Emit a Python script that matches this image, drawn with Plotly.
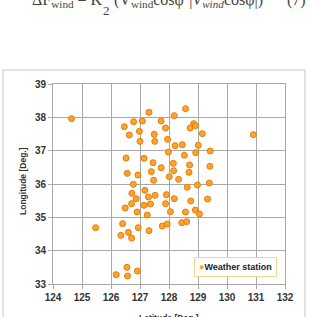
import plotly.graph_objects as go

# Weather station positions (x = "Latitude" axis, y = "Longitude" axis as labelled in the reference)
lon = [124.64, 127.31, 126.46, 126.78, 127.08, 126.98, 126.63, 127.49, 127.00, 127.51,
       126.52, 127.14, 127.45, 126.56, 126.93, 127.39, 127.47, 126.77, 128.57, 128.18,
       127.73, 127.88, 128.85, 128.91, 128.73, 129.15, 130.91, 127.95, 128.21, 128.46,
       129.01, 127.98, 129.42, 128.92, 128.53, 128.15, 128.71, 129.41, 127.73, 128.16,
       128.69, 128.01, 128.33, 128.63, 128.98, 129.39, 127.52, 127.91, 128.18, 127.88,
       128.75, 129.33, 128.05, 128.57, 128.91, 129.05, 127.77, 127.94, 128.44, 128.61,
       127.31, 127.17, 126.72, 127.29, 126.87, 126.71, 127.14, 127.36, 126.49, 126.90,
       127.25, 125.47, 126.40, 126.60, 126.34, 126.71, 126.94, 126.18, 126.55, 126.57,
       126.91]
lat = [37.96, 38.15, 37.72, 37.87, 37.89, 37.58, 37.47, 37.49, 37.28, 37.28,
       36.78, 36.77, 36.64, 36.32, 36.27, 36.37, 36.11, 35.99, 38.26, 38.05,
       37.89, 37.68, 37.81, 37.75, 37.68, 37.51, 37.48, 37.34, 37.15, 37.18,
       37.16, 36.96, 36.99, 36.94, 36.86, 36.62, 36.57, 36.53, 36.49, 36.40,
       36.35, 36.22, 36.14, 35.90, 35.97, 36.03, 35.66, 35.68, 35.56, 35.41,
       35.49, 35.55, 35.17, 35.16, 35.22, 35.10, 34.74, 34.80, 34.84, 34.87,
       34.60, 35.81, 35.72, 35.61, 35.56, 35.41, 35.36, 35.40, 35.28, 35.16,
       35.07, 34.69, 34.81, 34.55, 34.46, 34.38, 34.69, 33.28, 33.50, 33.24,
       33.39]

x_ticks = [124, 125, 126, 127, 128, 129, 130, 131, 132]
y_ticks = [33, 34, 35, 36, 37, 38, 39]
series_name = "Weather station"
x_title = "Latitude [Deg.]"
y_title = "Longitude [Deg.]"

FONT = "Liberation Sans, Arial, sans-serif"
SERIF = "Liberation Serif, Times New Roman, serif"
GRID = "#a8a8a8"
W, H = 310, 317
L, R, T, B = 53, 25, 84, 33
PW, PH = W - L - R, H - T - B


def px_x(px):
    return (px - L) / PW


def px_y(py):
    return (T + PH - py) / PH


fig = go.Figure()
fig.add_trace(go.Scatter(
    x=lon, y=lat, mode="markers", name=series_name, showlegend=False,
    marker=dict(size=6, color="#FFA232", line=dict(color="#E67E00", width=1)),
))

axis_common = dict(
    showgrid=True, gridcolor=GRID, gridwidth=1,
    showline=True, linecolor=GRID, linewidth=1, mirror=True,
    ticks="outside", ticklen=4, tickcolor=GRID,
    tickfont=dict(family=FONT, size=10, color="#333333", weight="bold"),
    zeroline=False, fixedrange=True,
)
fig.update_xaxes(range=[124, 132], tickvals=x_ticks, **axis_common)
fig.update_yaxes(range=[33, 39], tickvals=y_ticks, **axis_common)


def txt(text, x, y, xa="center", ya="middle", font=None, **kw):
    return dict(text=text, x=px_x(x), y=px_y(y), xref="paper", yref="paper",
                xanchor=xa, yanchor=ya, showarrow=False, font=font, **kw)


eq_font = dict(family=SERIF, size=16, color="#444444")

annotations = [
    txt(x_title, 169, 318, font=dict(family=FONT, size=8.5, color="#333333", weight="bold")),
    txt(y_title, 23, 181, textangle=-90,
        font=dict(family=FONT, size=8.5, color="#333333", weight="bold")),
    txt('<span style="color:#FFA232">●</span>' + series_name, 235, 267,
        bgcolor="white", bordercolor="#F2D98C", borderwidth=1, borderpad=4,
        font=dict(family=FONT, size=9, color="#222222", weight="bold")),
    # clipped equation text at the top of the page
    txt("ΔF<sub>wind</sub>&nbsp;=&nbsp;K", 30, 12, xa="left", ya="bottom", font=eq_font),
    txt("2", 106, 20, xa="center", ya="bottom", font=dict(family=SERIF, size=13, color="#444444")),
    txt("(V<sub>wind</sub>cosφ·|<i>V<sub>wind</sub></i>cosφ|)", 112, 12, xa="left", ya="bottom",
        font=eq_font),
    txt("(7)", 308, 11, xa="right", ya="bottom", font=eq_font),
]

shapes = [
    dict(type="rect", xref="paper", yref="paper",
         x0=px_x(3), x1=px_x(305), y0=px_y(330), y1=px_y(70),
         line=dict(color="#e2e2e2", width=2), fillcolor="rgba(0,0,0,0)", layer="below"),
]

fig.update_layout(
    width=W, height=H, margin=dict(l=L, r=R, t=T, b=B, pad=0),
    paper_bgcolor="white", plot_bgcolor="white",
    annotations=annotations, shapes=shapes, showlegend=False,
)

fig.write_html("out.html", config={"displayModeBar": False})
